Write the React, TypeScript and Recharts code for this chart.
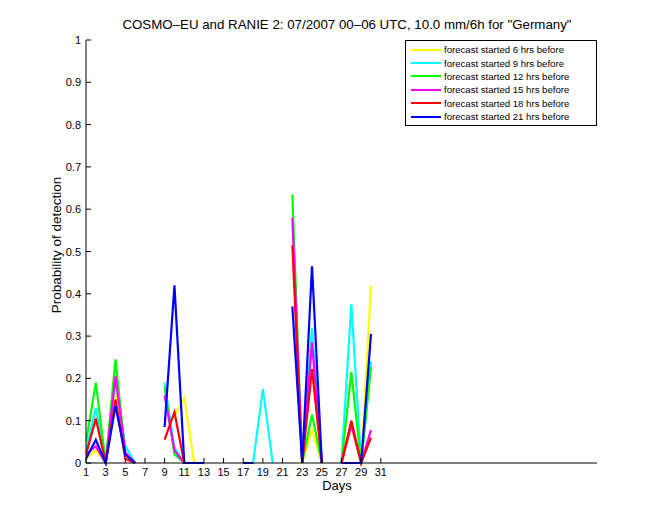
import { Line, LineChart, XAxis, YAxis } from "recharts";

const days = Array.from({ length: 30 }, (_, i) => i + 1);

// daily probability of detection, null = no data
const fc6h = [0.01, 0.03, 0, 0.165, 0.02, 0, null, null, null, 0.11, 0.155, 0, 0, null, null, null, 0, 0, null, null, null, null, 0, 0.078, 0, null, 0, 0.085, 0, 0.42];
const fc9h = [0.03, 0.13, 0, 0.2, 0.04, 0, null, null, 0.19, 0.035, 0, 0, 0, null, null, null, 0, 0, 0.175, 0, null, null, 0, 0.32, 0, null, 0, 0.375, 0, 0.24];
const fc12h = [0.05, 0.19, 0, 0.245, 0.02, 0, null, null, 0.18, 0.02, 0, 0, 0, null, null, null, 0, 0, null, null, null, 0.635, 0, 0.115, 0, null, 0, 0.215, 0, 0.227];
const fc15h = [0.02, 0.04, 0, 0.205, 0.025, 0, null, null, 0.16, 0.03, 0, 0, 0, null, null, null, 0, 0, null, null, null, 0.58, 0, 0.285, 0, null, 0, 0.09, 0, 0.078];
const fc18h = [0.02, 0.105, 0, 0.15, 0.01, 0, null, null, 0.055, 0.12, 0, 0, 0, null, null, null, 0, 0, null, null, null, 0.515, 0, 0.222, 0, null, 0, 0.1, 0, 0.06];
const fc21h = [0.01, 0.055, 0, 0.135, 0.02, 0, null, null, 0.085, 0.42, 0, 0, 0, null, null, null, 0, 0, null, null, null, 0.37, 0, 0.465, 0, null, 0, 0, 0, 0.305];

const xTicks = [1, 3, 5, 7, 9, 11, 13, 15, 17, 19, 21, 23, 25, 27, 29, 31];
const yTicks = [0, 0.1, 0.2, 0.3, 0.4, 0.5, 0.6, 0.7, 0.8, 0.9, 1];

const series = [
  { key: "fc6h", name: "forecast started 6 hrs before", color: "#ffff00", values: fc6h },
  { key: "fc9h", name: "forecast started 9 hrs before", color: "#00ffff", values: fc9h },
  { key: "fc12h", name: "forecast started 12 hrs before", color: "#00ff00", values: fc12h },
  { key: "fc15h", name: "forecast started 15 hrs before", color: "#ff00ff", values: fc15h },
  { key: "fc18h", name: "forecast started 18 hrs before", color: "#ff0000", values: fc18h },
  { key: "fc21h", name: "forecast started 21 hrs before", color: "#0000ff", values: fc21h },
];

const data = days.map((day, i) => {
  const row: any = { day };
  series.forEach((s) => (row[s.key] = s.values[i]));
  return row;
});

const font = "'Liberation Sans', Arial, sans-serif";

const XTick = ({ x, y, payload }: any) => (
  <g>
    <line x1={x} x2={x} y1={y} y2={y - 5} stroke="#000" />
    <text x={x} y={y + 13} textAnchor="middle" fontSize={11} fontFamily={font} fill="#000">
      {payload.value}
    </text>
  </g>
);

const YTick = ({ x, y, payload }: any) => (
  <g>
    <line x1={x} x2={x + 5} y1={y} y2={y} stroke="#000" />
    <text x={x - 5} y={y + 4} textAnchor="end" fontSize={11} fontFamily={font} fill="#000">
      {payload.value}
    </text>
  </g>
);

const LegendBox = () => (
  <div
    style={{
      position: "absolute",
      left: 405,
      top: 40,
      border: "1px solid #000",
      background: "#fff",
      width: 192,
      height: 86,
      boxSizing: "border-box",
      paddingTop: 2,
      fontFamily: font,
      fontSize: 9.6,
    }}
  >
    {series.map((s) => (
      <div key={s.key} style={{ display: "flex", alignItems: "center", height: 13.4 }}>
        <svg width={33} height={6} style={{ marginLeft: 5 }}>
          <line x1={0} x2={30} y1={3} y2={3} stroke={s.color} strokeWidth={2} />
        </svg>
        <span>{s.name}</span>
      </div>
    ))}
  </div>
);

export default function App() {
  return (
    <div style={{ position: "absolute", left: 0, top: 0, width: 660, height: 520, background: "#fff" }}>
      <LineChart width={660} height={520} data={data} margin={{ top: 40, right: 63, bottom: 56, left: 85 }}>
        <XAxis
          dataKey="day"
          type="number"
          domain={[1, 53]}
          ticks={xTicks}
          height={1}
          tickSize={0}
          tickMargin={0}
          tickLine={false}
          axisLine={{ stroke: "#000" }}
          tick={<XTick />}
          interval={0}
          allowDataOverflow
        />
        <YAxis
          type="number"
          domain={[0, 1]}
          ticks={yTicks}
          width={1}
          tickSize={0}
          tickMargin={0}
          tickLine={false}
          axisLine={{ stroke: "#000" }}
          tick={<YTick />}
          interval={0}
        />
        {series.map((s) => (
          <Line
            key={s.key}
            dataKey={s.key}
            name={s.name}
            type="linear"
            stroke={s.color}
            strokeWidth={2.2}
            dot={false}
            connectNulls={false}
            isAnimationActive={false}
          />
        ))}
        <text x={347} y={29} textAnchor="middle" fontSize={13.3} fontFamily={font} fill="#000">
          COSMO–EU and RANIE 2: 07/2007 00–06 UTC, 10.0 mm/6h for "Germany"
        </text>
        <text x={337} y={490} textAnchor="middle" fontSize={13} fontFamily={font} fill="#000">
          Days
        </text>
        <text
          x={61}
          y={245}
          textAnchor="middle"
          fontSize={13.5}
          fontFamily={font}
          fill="#000"
          transform="rotate(-90 61 245)"
        >
          Probability of detection
        </text>
      </LineChart>
      <LegendBox />
    </div>
  );
}
